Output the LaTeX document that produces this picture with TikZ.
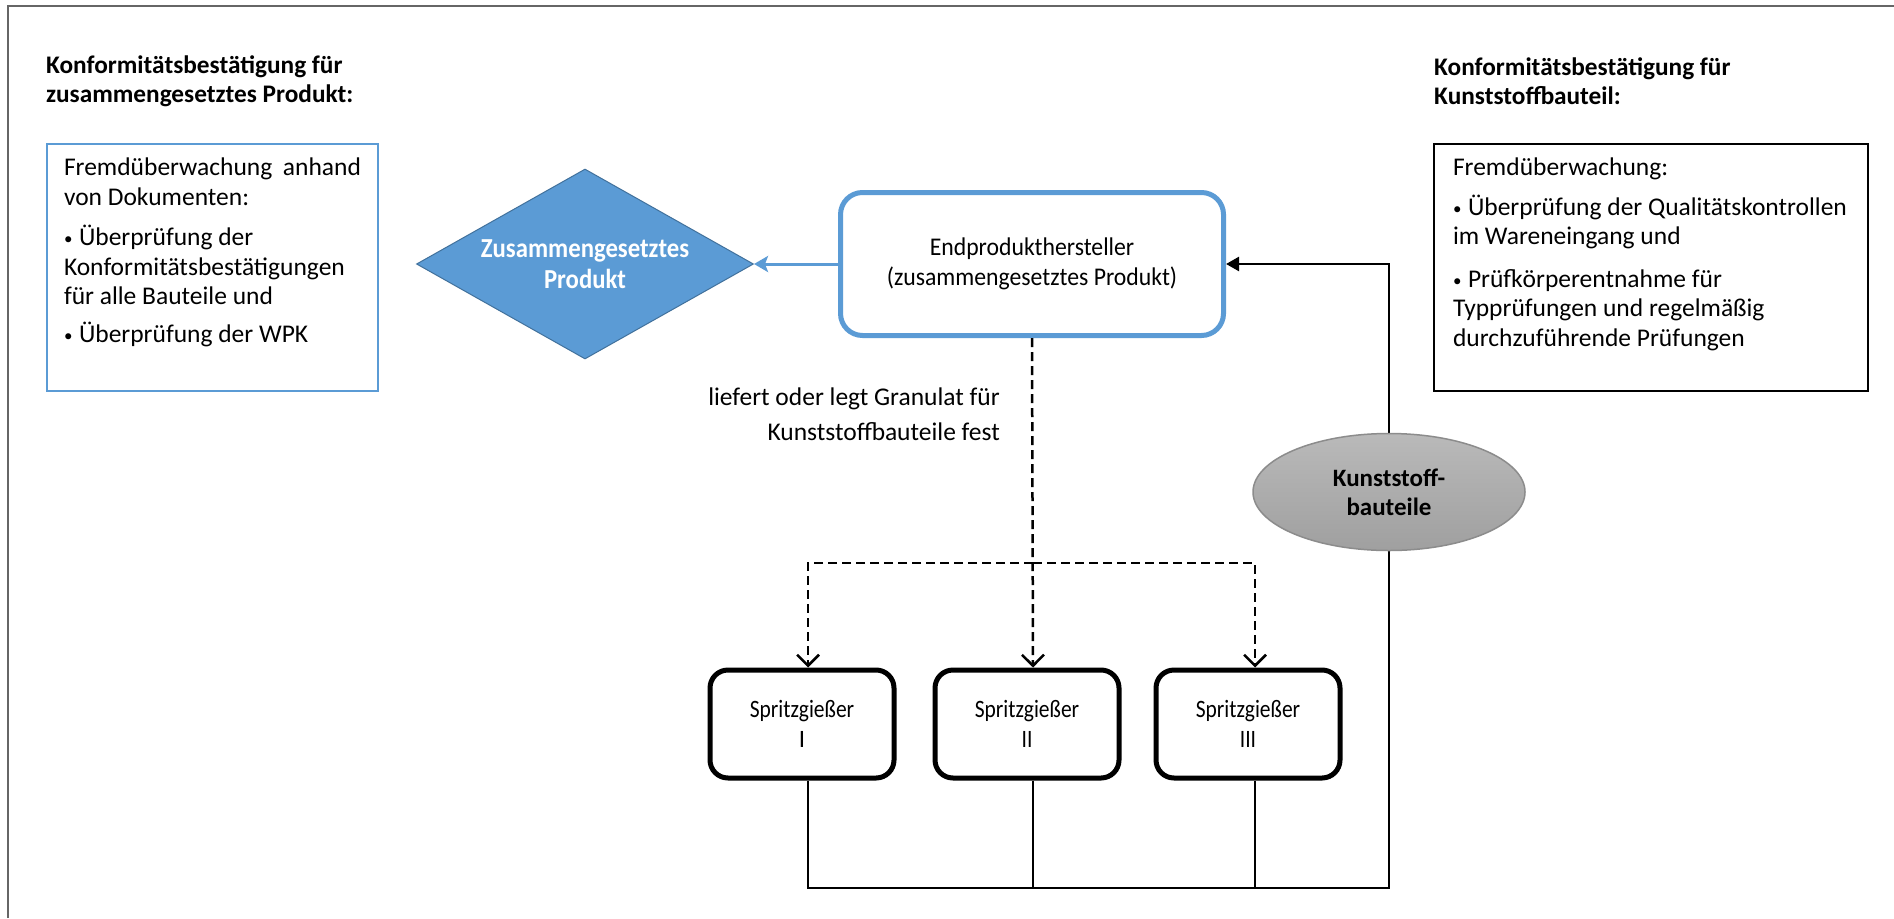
\documentclass[tikz,border=0pt]{standalone}
\usepackage{graphicx}
\usepackage{fontspec}
\setmainfont{Carlito}
\usetikzlibrary{arrows.meta,shapes.geometric}
\definecolor{mblue}{HTML}{5B9BD5}
\definecolor{dblue}{HTML}{41719C}
\definecolor{egray}{HTML}{A8A8A8}
\definecolor{egrayd}{HTML}{8C8C8C}
\definecolor{framegray}{HTML}{666666}
\newcommand{\bulitem}[1]{\par\hangindent=15pt\hangafter=1\noindent\makebox[15pt][l]{\raisebox{1pt}{\fontsize{17}{17}\selectfont\textbullet}}#1}
\newcommand{\cnd}[2]{\scalebox{#1}[1]{#2}}
\tikzset{
  titletext/.style={anchor=west, align=left, inner sep=0pt, font=\fontsize{25.3}{29}\selectfont\bfseries},
  infobox/.style={draw, line width=2pt, anchor=north west, inner ysep=14pt, font=\fontsize{25.5}{29.5}\selectfont},
  endbox/.style={draw=mblue, line width=5pt, rounded corners=22pt, minimum width=383pt, minimum height=143pt, align=center, font=\fontsize{25.5}{29.5}\selectfont},
  sgbox/.style={draw, line width=5pt, rounded corners=18pt, minimum width=184pt, minimum height=108pt, align=center, font=\fontsize{25}{30}\selectfont},
  prodshape/.style={diamond, draw=dblue, line width=1pt, fill=mblue, minimum width=337pt, minimum height=190pt, inner sep=0pt},
  partshape/.style={ellipse, draw=egrayd, line width=1.5pt, top color=egray!80!white, bottom color=egray!95!black, minimum width=272pt, minimum height=117pt, inner sep=0pt, align=center, font=\fontsize{25}{29}\selectfont\bfseries},
  bluearrow/.style={draw=mblue, line width=3pt, -{Stealth[length=14pt,width=16pt,inset=3pt]}},
  solidline/.style={draw, line width=2.5pt},
  solidarrow/.style={solidline, -{Triangle[length=13pt,width=14pt]}},
  dashline/.style={draw, line width=2.5pt, dash pattern=on 9pt off 5pt},
  dasharrow/.style={dashline, -{Straight Barb[length=11pt,width=22pt,line width=2.5pt]}},
  lbltext/.style={anchor=east, align=right, inner sep=0pt, font=\fontsize{25.5}{35}\selectfont}
}
\begin{document}
\begin{tikzpicture}[x=1pt,y=-1pt, font=\fontsize{23}{30}\selectfont]
\useasboundingbox (0,0) rectangle (1894,918);
\fill[white] (0,0) rectangle (1894,918);
% frame
\draw[framegray, line width=2.5pt] (8,918) -- (8,6) -- (1894,6);

% titles
\node[titletext] (ltitle) at (46,81) {Konformitätsbestätigung für\\zusammengesetztes Produkt:};
\node[titletext] (rtitle) at (1434,81) {Konformitätsbestätigung für\\Kunststoffbauteil:};

% left info box
\node[infobox, draw=mblue, inner xsep=17pt] (lbox) at (46,143) {%
\begin{minipage}[t][219pt][t]{297pt}
\raggedright
\noindent Fremdüberwachung\ \ anhand\\
von Dokumenten:\par\vspace{11pt}
\bulitem{Überprüfung der\\Konformitätsbestätigungen\\für alle Bauteile und}\par\vspace{8pt}
\bulitem{Überprüfung der WPK}
\end{minipage}};

% right info box
\node[infobox, draw=black, inner xsep=19pt] (rbox) at (1433,143) {%
\begin{minipage}[t][219pt][t]{396pt}
\raggedright
\noindent Fremdüberwachung:\par\vspace{10pt}
\bulitem{Überprüfung der Qualitätskontrollen\\im Wareneingang und}\par\vspace{13pt}
\bulitem{Prüfkörperentnahme für\\Typprüfungen und regelmäßig\\durchzuführende Prüfungen}
\end{minipage}};

% product diamond
\node[prodshape, label={[align=center, text=white, font=\fontsize{27.5}{31}\selectfont\bfseries]center:\cnd{0.9}{Zusammengesetztes}\\\cnd{0.9}{Produkt}}] (prod) at (585,264) {};

% end product manufacturer
\node[endbox] (endp) at (1032,264) {\cnd{0.93}{Endprodukthersteller}\\\cnd{0.93}{(zusammengesetztes Produkt)}};

% injection moulders
\node[sgbox] (sg1) at (802,724) {\cnd{0.86}{Spritzgießer}\\I};
\node[sgbox] (sg2) at (1027,724) {\cnd{0.86}{Spritzgießer}\\\cnd{0.86}{II}};
\node[sgbox] (sg3) at (1248,724) {\cnd{0.86}{Spritzgießer}\\\cnd{0.86}{III}};

% label
\node[lbltext] (lbl) at (1000,414) {liefert oder legt Granulat für\\Kunststoffbauteile fest};

% connectors
\draw[bluearrow] (endp.west) -- (prod.east);
\coordinate (split) at (1033,563);
\coordinate (busR) at (1389,888);
\draw[dasharrow] (endp.south) -- ([xshift=6pt]sg2.north);
\draw[dasharrow] (split) -| ([xshift=6pt]sg1.north);
\draw[dasharrow] (split) -| ([xshift=7pt]sg3.north);
\draw[solidarrow] ([xshift=6pt]sg1.south) |- (busR) |- (endp.east);
\draw[solidline] ([xshift=6pt]sg2.south) -- ([xshift=6pt]sg2.south |- busR);
\draw[solidline] ([xshift=7pt]sg3.south) -- ([xshift=7pt]sg3.south |- busR);

% plastic parts ellipse
\node[partshape] (parts) at (1389,492) {Kunststoff-\\bauteile};
\end{tikzpicture}
\end{document}
